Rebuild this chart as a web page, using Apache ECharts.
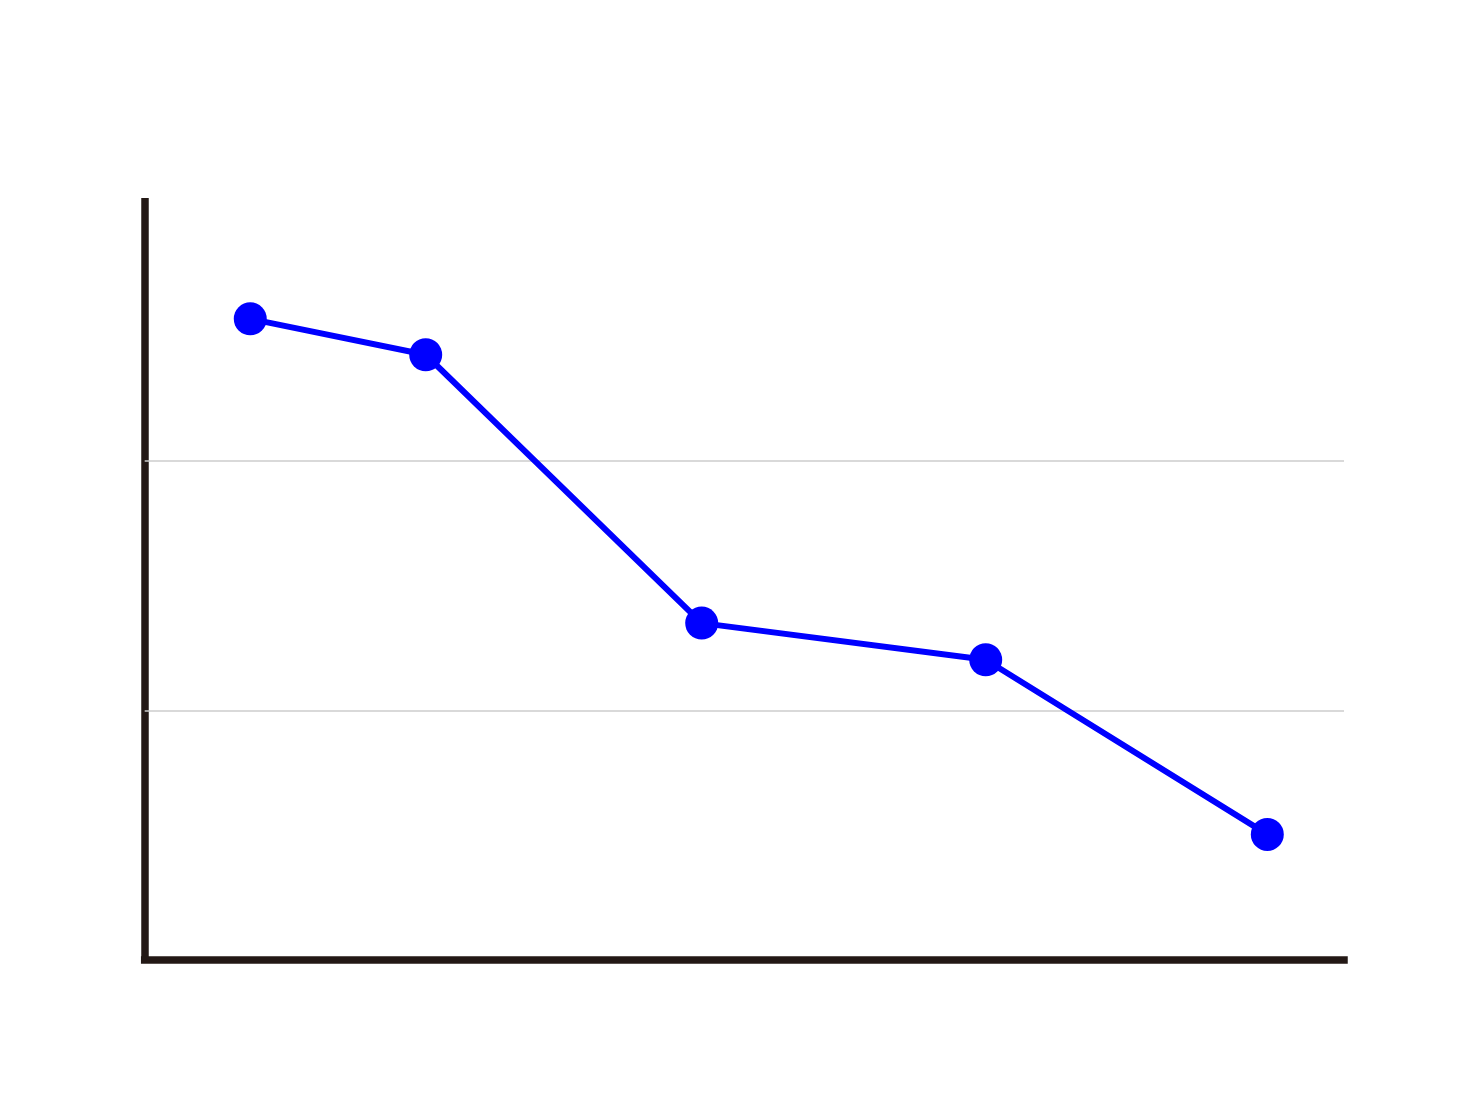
<!DOCTYPE html>
<html>
<head>
<meta charset="utf-8">
<script src="https://cdn.jsdelivr.net/npm/echarts@6/dist/echarts.min.js"></script>
<style>
html,body{margin:0;padding:0;background:#fff;}
#chart{width:1480px;height:1110px;}
</style>
</head>
<body>
<div id="chart"></div>
<script>
// data
var xValues = [1.053, 2.803, 5.556, 8.389, 11.198];
var yValues = [2.571, 2.427, 1.350, 1.203, 0.502];
var gridValues = [1, 2];
var xRange = [0, 11.963];
var yRange = [0, 3.056];

var points = xValues.map(function (x, i) { return [x, yValues[i]]; });

var chart = echarts.init(document.getElementById('chart'), null, {renderer: 'canvas'});
chart.setOption({
  animation: false,
  backgroundColor: '#ffffff',
  grid: {left: 144.7, right: 136, top: 198, bottom: 150.5, containLabel: false},
  xAxis: {
    type: 'value', min: xRange[0], max: xRange[1],
    axisLine: {show: true, onZero: false, lineStyle: {color: '#231815', width: 7.5, cap: 'square'}},
    axisTick: {show: false}, axisLabel: {show: false}, splitLine: {show: false}
  },
  yAxis: {
    type: 'value', min: yRange[0], max: yRange[1],
    axisLine: {show: true, onZero: false, lineStyle: {color: '#231815', width: 7.5, cap: 'butt'}},
    axisTick: {show: false}, axisLabel: {show: false}, splitLine: {show: false}
  },
  series: [{
    type: 'line',
    data: points,
    symbol: 'circle',
    symbolSize: 33,
    lineStyle: {color: '#0000ff', width: 6},
    itemStyle: {color: '#0000ff'},
    z: 3,
    markLine: {
      silent: true,
      symbol: ['none', 'none'],
      label: {show: false},
      lineStyle: {color: '#cccccc', width: 1.5, type: 'solid'},
      z: 1,
      data: gridValues.map(function (v) { return {yAxis: v}; })
    }
  }]
});
</script>
</body>
</html>
